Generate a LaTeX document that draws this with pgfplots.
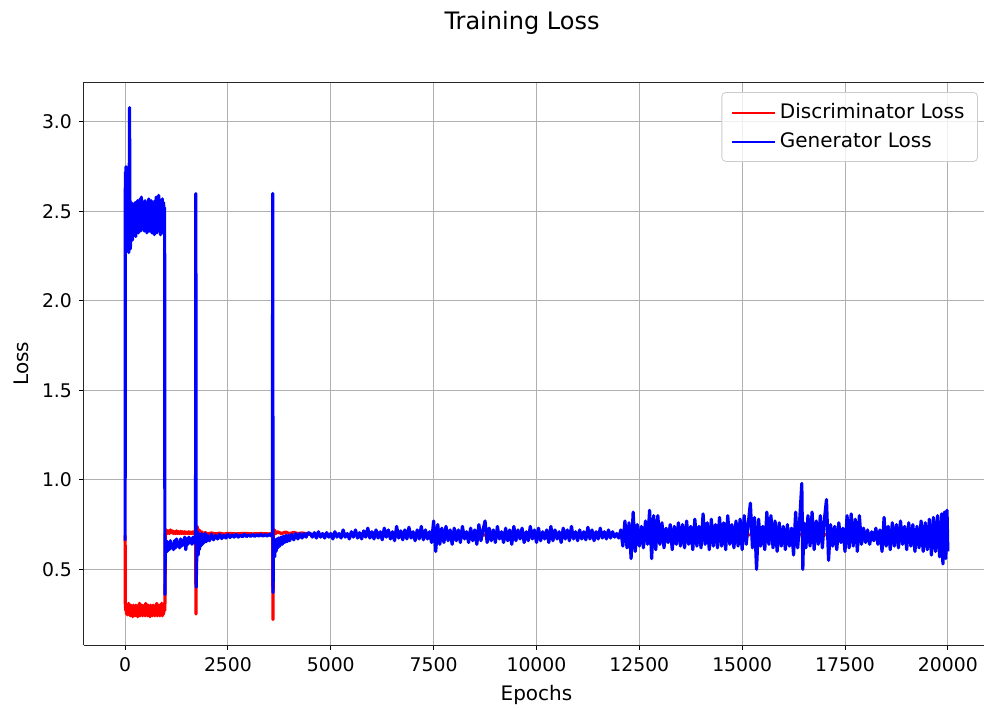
\documentclass[border=0pt]{standalone}
\usepackage{fontspec}
\setmainfont{DejaVu Sans}
\usepackage{pgfplots}
\pgfplotsset{compat=1.18}

\begin{document}
\begin{tikzpicture}
\begin{axis}[
  scale only axis,
  width=452.5pt,height=281.5pt,
  xmin=-1000,xmax=21000,ymin=0.077,ymax=3.223,
  axis x line*=box,axis y line*=left,
  font=\fontsize{9.4}{11}\selectfont,
  label style={font=\fontsize{10}{12}\selectfont},
  /pgf/number format/assume math mode=true,
  xtick={0,2500,5000,7500,10000,12500,15000,17500,20000},
  ytick={0.5,1.0,1.5,2.0,2.5,3.0},
  scaled x ticks=false,
  xticklabel style={/pgf/number format/.cd,set thousands separator={}},
  yticklabel style={/pgf/number format/.cd,fixed,fixed zerofill,precision=1},
  xtick pos=bottom,ytick pos=left,
  tick align=outside,major tick length=2.5pt,
  tick style={black,line width=0.5pt},
  axis line style={line width=0.5pt,black!85},
  grid=major,grid style={line width=0.5pt,black!31},
  xlabel={Epochs},ylabel={Loss},
  legend cell align=left,
  legend style={at={(rel axis cs:0.9878,0.9822)},anchor=north east,
    font=\fontsize{10}{12}\selectfont,
    draw=black!20,rounded corners=2pt,fill=white,fill opacity=0.8,text opacity=1,
    row sep=1.5pt,inner xsep=4.5pt,inner ysep=3.5pt},
  legend image code/.code={\draw[#1,line width=1pt] (0pt,0pt) -- (21.5pt,0pt);},
  every axis plot/.append style={line width=1.6pt,line join=round},
]
\addplot[red] coordinates {
(0,0.69)(5,0.31)(15,0.27)(25,0.30)(35,0.25)(45,0.29)(55,0.245)(65,0.30)(75,0.26)(85,0.31)(95,0.25)
(110,0.29)(125,0.24)(140,0.30)(155,0.25)(170,0.29)(185,0.235)(200,0.30)(215,0.25)(230,0.29)(245,0.24)
(260,0.30)(275,0.25)(290,0.29)(305,0.235)(320,0.30)(335,0.25)(350,0.31)(365,0.24)(380,0.29)(395,0.25)
(410,0.30)(425,0.24)(440,0.29)(455,0.25)(470,0.30)(485,0.24)(500,0.31)(515,0.25)(530,0.29)(545,0.24)
(560,0.30)(575,0.25)(590,0.29)(605,0.235)(620,0.30)(635,0.25)(650,0.29)(665,0.24)(680,0.30)(695,0.25)
(710,0.29)(725,0.24)(740,0.30)(755,0.25)(770,0.31)(785,0.24)(800,0.29)(815,0.25)(830,0.30)(845,0.24)
(860,0.29)(875,0.25)(890,0.31)(905,0.24)(920,0.30)(935,0.25)(950,0.31)(962,0.27)(970,0.33)(978,0.70)
(1000,0.72)(1025,0.70)(1050,0.715)(1075,0.70)(1100,0.72)(1125,0.705)(1150,0.715)(1175,0.70)(1200,0.71)
(1225,0.70)(1250,0.715)(1275,0.70)(1300,0.71)(1325,0.70)(1350,0.712)(1375,0.70)(1400,0.71)(1425,0.70)
(1450,0.71)(1475,0.70)(1500,0.708)(1525,0.70)(1550,0.71)(1575,0.70)(1600,0.708)(1625,0.70)(1650,0.71)
(1675,0.70)(1700,0.705)(1715,0.70)(1722,0.25)(1730,0.70)(1750,0.74)(1775,0.68)(1800,0.72)(1825,0.69)
(1850,0.71)(1900,0.70)(1950,0.705)(2000,0.698)(2100,0.703)(2200,0.698)(2300,0.702)(2400,0.697)
(2500,0.701)(2700,0.698)(2900,0.701)(3100,0.698)(3300,0.700)(3500,0.698)(3585,0.70)(3595,0.22)
(3605,0.70)(3630,0.72)(3660,0.70)(3700,0.71)(3800,0.70)(3900,0.708)(4000,0.70)(4100,0.706)(4200,0.70)
(4300,0.703)(4500,0.695)(6000,0.693)(8000,0.692)(10000,0.693)(12000,0.693)(14000,0.692)(16000,0.693)
(18000,0.693)(20000,0.692)
};
\addlegendentry{Discriminator Loss}
\addplot[blue] coordinates {
(0,0.66)(4,2.60)(10,2.72)(16,2.55)(22,2.75)(28,2.58)(34,2.70)(40,2.50)(46,2.66)(52,2.40)(58,2.70)
(64,2.45)(70,2.62)(76,2.35)(82,2.58)(88,2.27)(94,2.50)(100,2.60)(108,3.08)(116,2.42)(122,2.56)
(128,2.29)(134,2.52)(140,2.36)(150,2.55)(160,2.38)(170,2.52)(180,2.34)(190,2.54)(200,2.37)(215,2.52)
(230,2.38)(245,2.55)(260,2.36)(275,2.53)(290,2.40)(305,2.56)(320,2.38)(335,2.54)(350,2.41)(365,2.57)
(380,2.39)(395,2.58)(410,2.40)(425,2.55)(440,2.42)(455,2.54)(470,2.39)(485,2.56)(500,2.41)(515,2.53)
(530,2.38)(545,2.55)(560,2.40)(575,2.57)(590,2.39)(605,2.54)(620,2.40)(635,2.56)(650,2.38)(665,2.55)
(680,2.41)(695,2.53)(710,2.37)(725,2.56)(740,2.40)(755,2.58)(770,2.38)(785,2.57)(800,2.41)(815,2.59)
(830,2.39)(845,2.56)(860,2.37)(875,2.55)(890,2.40)(905,2.57)(920,2.38)(935,2.55)(950,2.42)(960,2.52)
(968,0.36)(976,0.62)
(1000,0.66)(1025,0.60)(1050,0.65)(1075,0.61)(1100,0.66)(1125,0.62)(1150,0.64)(1175,0.61)(1200,0.66)
(1225,0.62)(1250,0.67)(1275,0.63)(1300,0.65)(1325,0.62)(1350,0.67)(1375,0.63)(1400,0.66)(1425,0.64)
(1450,0.68)(1475,0.61)(1500,0.67)(1525,0.64)(1550,0.68)(1575,0.65)(1600,0.67)(1625,0.64)(1650,0.68)
(1675,0.65)(1700,0.68)(1712,0.66)(1719,2.60)(1727,0.40)
(1745,0.62)(1760,0.71)(1775,0.58)(1790,0.70)(1805,0.61)(1820,0.69)(1840,0.63)(1860,0.70)(1880,0.64)
(1900,0.69)(1925,0.65)(1950,0.70)(1975,0.655)(2000,0.69)(2050,0.66)(2100,0.695)(2150,0.665)(2200,0.69)
(2250,0.67)(2300,0.695)(2350,0.672)(2400,0.69)(2450,0.675)(2500,0.695)(2550,0.678)(2600,0.692)
(2650,0.68)(2700,0.695)(2750,0.68)(2800,0.692)(2850,0.682)(2900,0.695)(2950,0.683)(3000,0.693)
(3050,0.684)(3100,0.695)(3150,0.684)(3200,0.694)(3250,0.685)(3300,0.695)(3350,0.685)(3400,0.694)
(3450,0.686)(3500,0.695)(3550,0.687)(3580,0.69)(3588,2.60)(3596,0.37)(3605,0.58)(3620,0.67)(3635,0.57)
(3650,0.66)(3670,0.60)(3690,0.67)(3710,0.62)(3730,0.675)(3760,0.63)(3790,0.68)(3820,0.64)(3850,0.685)
(3880,0.65)(3910,0.69)(3940,0.655)(3970,0.69)(4000,0.66)(4050,0.695)(4100,0.665)(4150,0.70)(4200,0.67)
(4250,0.70)(4300,0.675)(4350,0.70)(4400,0.68)(4450,0.705)
(4500,0.70)(4550,0.68)(4600,0.705)(4650,0.675)(4700,0.71)(4750,0.68)(4800,0.70)(4850,0.675)(4900,0.705)
(4950,0.68)(5000,0.70)(5050,0.67)(5100,0.71)(5150,0.68)(5200,0.70)(5250,0.675)(5300,0.72)(5350,0.68)
(5400,0.70)(5450,0.67)(5500,0.71)(5550,0.68)(5600,0.72)(5650,0.675)(5700,0.705)(5750,0.67)(5800,0.715)
(5850,0.68)(5900,0.73)(5950,0.675)(6000,0.71)
(6050,0.67)(6100,0.72)(6150,0.675)(6200,0.71)(6250,0.665)(6300,0.73)(6350,0.68)(6400,0.72)(6450,0.67)
(6500,0.71)(6550,0.66)(6600,0.74)(6650,0.675)(6700,0.715)(6750,0.665)(6800,0.72)(6850,0.67)(6900,0.735)
(6950,0.675)(7000,0.71)(7050,0.66)(7100,0.72)(7150,0.67)(7200,0.74)(7250,0.665)(7300,0.72)(7350,0.67)
(7400,0.71)(7450,0.65)(7500,0.77)(7550,0.60)(7600,0.75)(7650,0.64)(7700,0.73)(7750,0.65)(7800,0.74)
(7850,0.66)(7900,0.72)(7950,0.64)(8000,0.73)(8050,0.66)(8100,0.72)(8150,0.65)(8200,0.74)(8250,0.67)
(8300,0.71)(8350,0.65)(8400,0.73)(8450,0.66)(8500,0.72)(8550,0.64)(8600,0.75)(8650,0.66)(8700,0.72)
(8750,0.77)(8800,0.65)(8850,0.73)(8900,0.66)(8950,0.72)(9000,0.65)(9050,0.74)(9100,0.67)(9150,0.71)
(9200,0.65)(9250,0.73)(9300,0.66)(9350,0.72)(9400,0.64)(9450,0.74)(9500,0.66)(9550,0.72)(9600,0.67)
(9650,0.73)(9700,0.65)(9750,0.71)(9800,0.66)(9850,0.74)(9900,0.67)(9950,0.72)(10000,0.65)(10050,0.73)
(10100,0.66)(10150,0.71)(10200,0.67)(10250,0.72)(10300,0.65)(10350,0.74)(10400,0.66)(10450,0.72)
(10500,0.67)(10550,0.71)(10600,0.65)(10650,0.73)(10700,0.67)(10750,0.72)(10800,0.66)(10850,0.74)
(10900,0.67)(10950,0.71)(11000,0.66)(11050,0.72)(11100,0.67)(11150,0.71)(11200,0.665)(11250,0.735)
(11300,0.67)(11350,0.72)(11400,0.66)(11450,0.71)(11500,0.67)(11550,0.73)(11600,0.675)(11650,0.71)
(11700,0.67)(11750,0.72)(11800,0.675)(11850,0.71)(11900,0.68)(11950,0.70)(12000,0.675)
(12050,0.72)(12100,0.63)(12150,0.77)(12200,0.62)(12250,0.76)(12300,0.56)(12350,0.82)(12400,0.60)
(12450,0.75)(12500,0.63)(12550,0.74)(12600,0.62)(12650,0.77)(12700,0.64)(12750,0.83)(12800,0.56)
(12850,0.80)(12900,0.61)(12950,0.80)(13000,0.64)(13050,0.76)(13100,0.62)(13150,0.73)(13200,0.65)
(13250,0.75)(13300,0.61)(13350,0.74)(13400,0.64)(13450,0.76)(13500,0.63)(13550,0.75)(13600,0.62)
(13650,0.77)(13700,0.64)(13750,0.74)(13800,0.61)(13850,0.78)(13900,0.63)(13950,0.74)(14000,0.62)
(14050,0.81)(14100,0.64)(14150,0.76)(14200,0.61)(14250,0.78)(14300,0.63)(14350,0.75)(14400,0.62)
(14450,0.79)(14500,0.63)(14550,0.76)(14600,0.61)(14650,0.80)(14700,0.64)(14750,0.75)(14800,0.62)
(14850,0.77)(14900,0.63)(14950,0.78)(15000,0.61)(15050,0.80)(15100,0.64)(15150,0.76)(15200,0.87)
(15250,0.62)(15300,0.79)(15350,0.50)(15400,0.78)(15450,0.63)(15500,0.74)(15550,0.61)(15600,0.82)
(15650,0.64)(15700,0.80)(15750,0.62)(15800,0.77)(15850,0.60)(15900,0.76)(15950,0.63)(16000,0.74)
(16050,0.61)(16100,0.75)(16150,0.63)(16200,0.73)(16250,0.58)(16300,0.82)(16350,0.62)(16400,0.78)
(16450,0.98)(16475,0.50)(16500,0.76)(16550,0.62)(16600,0.80)(16650,0.63)(16700,0.82)(16750,0.61)
(16800,0.77)(16850,0.64)(16900,0.80)(16950,0.62)(17000,0.78)(17050,0.89)(17100,0.55)(17150,0.75)
(17200,0.63)(17250,0.74)(17300,0.61)(17350,0.76)(17400,0.65)(17450,0.73)(17500,0.60)(17550,0.80)
(17600,0.62)(17650,0.81)(17700,0.63)(17750,0.78)(17800,0.60)(17850,0.80)(17900,0.64)(17950,0.73)
(18000,0.65)(18050,0.72)(18100,0.64)(18150,0.71)(18200,0.66)(18250,0.73)(18300,0.64)(18350,0.72)
(18400,0.60)(18450,0.79)(18500,0.63)(18550,0.74)(18600,0.61)(18650,0.76)(18700,0.63)(18750,0.75)
(18800,0.62)(18850,0.77)(18900,0.64)(18950,0.74)(19000,0.61)(19050,0.76)(19100,0.63)(19150,0.75)
(19200,0.60)(19250,0.74)(19300,0.62)(19350,0.77)(19400,0.60)(19450,0.76)(19500,0.61)(19550,0.78)
(19600,0.58)(19650,0.79)(19700,0.60)(19750,0.80)(19800,0.57)(19850,0.81)(19880,0.53)(19920,0.82)
(19950,0.56)(19980,0.83)(20000,0.60)
};
\addlegendentry{Generator Loss}
\coordinate (bbsw) at (rel axis cs:-0.0928,-0.1137);
\coordinate (bbne) at (rel axis cs:0.9945,1.1457);
\coordinate (ttl) at (rel axis cs:0.484,1.0941);
\end{axis}
\node[anchor=base,font=\fontsize{12}{14}\selectfont] at (ttl) {Training Loss};
\pgfresetboundingbox
\path[use as bounding box] (bbsw) rectangle (bbne);
\end{tikzpicture}
\end{document}
